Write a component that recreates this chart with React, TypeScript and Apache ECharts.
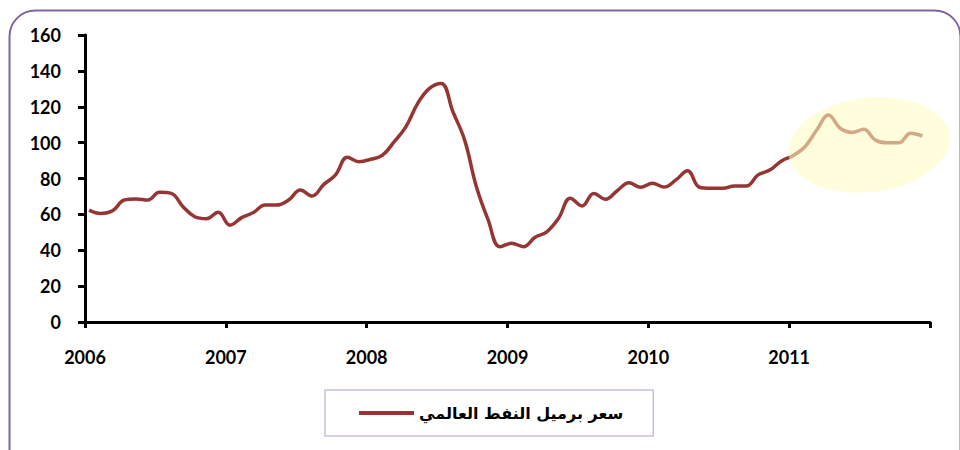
import React, { useEffect, useRef } from "react";
import * as echarts from "echarts";

const seriesName = "سعر برميل النفط العالمي";
const startYear = 2006;
const endYear = 2012;
const yearTicks = [2006, 2007, 2008, 2009, 2010, 2011];
const yMin = 0;
const yMax = 160;
const yStep = 20;

// monthly oil price, Jan 2006 .. Dec 2011
const prices2006 = [62.4, 60.5, 62, 68, 68.6, 68, 72.3, 71.7, 64.3, 58.7, 57.6, 61.2];
const prices2007 = [54, 58.2, 61, 65.2, 65.2, 68, 73.6, 70.2, 76.7, 82, 91.8, 89.4];
const prices2008 = [90.7, 93, 100.5, 108.9, 121.9, 130.2, 133, 117.2, 101.4, 75.4, 56.9, 42];
const prices2009 = [43.9, 42, 47.2, 50.3, 57.8, 69, 64.7, 71.7, 68.4, 73.2, 77.6, 75.1];
const prices2010 = [77.3, 75.2, 79.2, 84.3, 75.1, 74.5, 74.5, 75.8, 75.8, 82, 84.7, 89.8];
const prices2011 = [92.8, 97.7, 107, 115.4, 108, 105.7, 107.4, 101.4, 99.9, 99.9, 105.2, 103.7];

const allPrices = [
  ...prices2006,
  ...prices2007,
  ...prices2008,
  ...prices2009,
  ...prices2010,
  ...prices2011,
];
const seriesData = allPrices.map((v, m) => [startYear + (m + 0.35) / 12, v]);

export default function App() {
  const ref = useRef<HTMLDivElement>(null);
  useEffect(() => {
    if (!ref.current) return;
    const chart = echarts.init(ref.current, null, { renderer: "svg" });
    const labelFont = {
      fontFamily: "Lato, 'Open Sans', sans-serif",
      fontWeight: "bold" as const,
      fontSize: 18,
      color: "#000",
    };
    chart.setOption({
      animation: false,
      backgroundColor: "#fff",
      grid: { left: 85, top: 35, right: 30, bottom: 128, containLabel: false },
      xAxis: {
        type: "value",
        min: startYear,
        max: endYear,
        interval: 1,
        axisLine: { show: true, lineStyle: { color: "#000", width: 3 } },
        axisTick: { show: true, length: 6, lineStyle: { color: "#000", width: 3 } },
        splitLine: { show: false },
        axisLabel: {
          ...labelFont,
          margin: 26,
          showMaxLabel: true,
          formatter: (v: number) => (yearTicks.includes(Math.round(v)) ? String(Math.round(v)) : ""),
        },
      },
      yAxis: {
        type: "value",
        min: yMin,
        max: yMax,
        interval: yStep,
        axisLine: { show: true, lineStyle: { color: "#000", width: 3 } },
        axisTick: { show: true, length: 7, lineStyle: { color: "#000", width: 3 } },
        splitLine: { show: false },
        axisLabel: { ...labelFont, margin: 24 },
      },
      legend: {
        show: true,
        left: 325,
        top: 390,
        padding: [15, 30, 15, 34],
        borderColor: "#cbbfdd",
        borderWidth: 1.5,
        itemWidth: 55,
        itemHeight: 4,
        itemGap: 0,
        icon: "rect",
        textStyle: {
          fontFamily: "'DejaVu Sans', sans-serif",
          fontWeight: "bold",
          fontSize: 16,
          color: "#000",
          padding: [0, 0, 0, 0],
        },
        data: [seriesName],
      },
      graphic: [
        {
          type: "rect",
          left: 7,
          top: 8,
          silent: true,
          shape: { width: 951, height: 470, r: 26 },
          style: { fill: "none", stroke: "#8064a2", lineWidth: 2 },
          z: 0,
        },
        {
          type: "ellipse",
          silent: true,
          x: 869,
          y: 145,
          rotation: 0.12,
          shape: { cx: 0, cy: 0, rx: 81, ry: 47 },
          style: { fill: "rgba(255,251,195,0.58)", stroke: "none" },
          z: 100,
        },
      ],
      series: [
        {
          name: seriesName,
          type: "line",
          data: seriesData,
          smooth: 0.4,
          showSymbol: false,
          symbol: "none",
          lineStyle: { color: "#963634", width: 3.5 },
          itemStyle: { color: "#963634" },
          z: 3,
        },
      ],
    });
    return () => chart.dispose();
  }, []);
  return <div ref={ref} style={{ width: 960, height: 450, position: "absolute", left: 0, top: 0 }} />;
}
